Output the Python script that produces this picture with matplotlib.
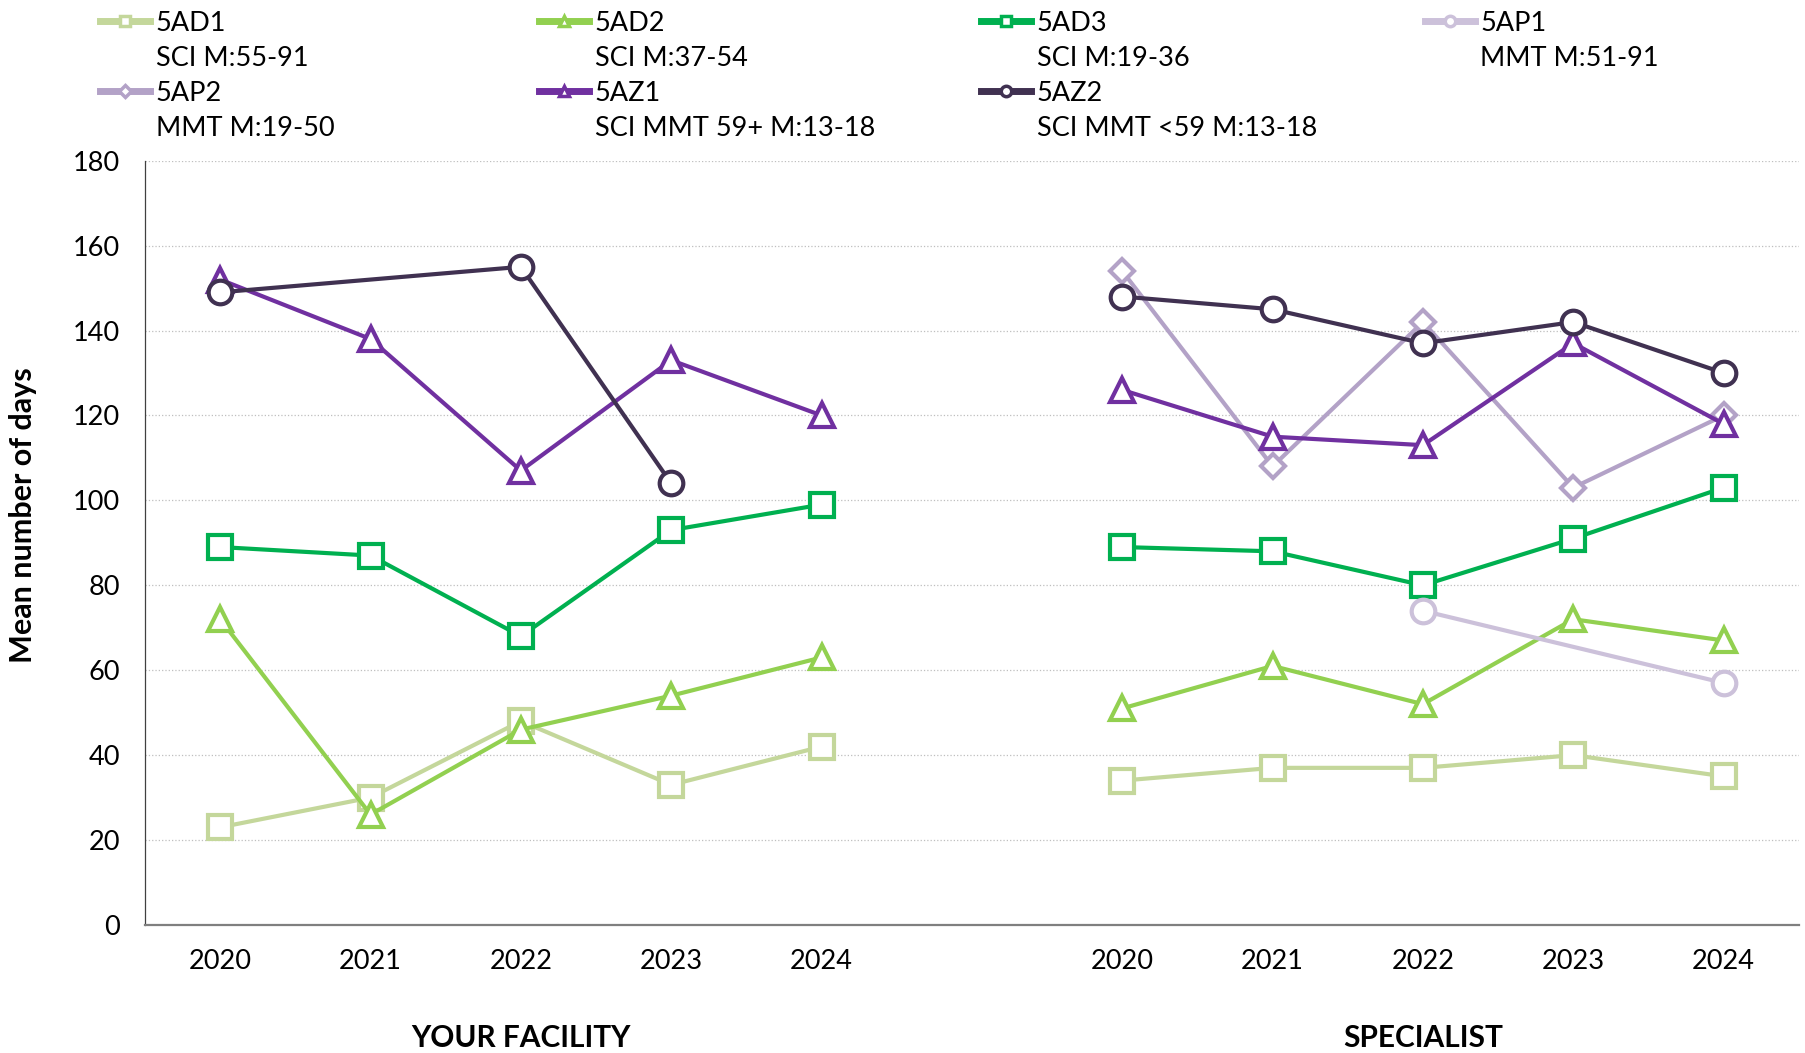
import numpy as np
import matplotlib
matplotlib.use('agg')
import matplotlib.pyplot as plt
import matplotlib.transforms as mtransforms
from matplotlib.lines import Line2D

#------------------------------------------------------------------------------
# SETTINGS
#------------------------------------------------------------------------------

plt.rcParams['font.family'] = ['Lato', 'DejaVu Sans']
fontsize = 19.5

years = ['2020', '2021', '2022', '2023', '2024']
groups = ['YOUR FACILITY', 'SPECIALIST']

series_names = ['5AD1', '5AD2', '5AD3', '5AP1', '5AP2', '5AZ1', '5AZ2']
series_desc = ['SCI M:55-91', 'SCI M:37-54', 'SCI M:19-36', 'MMT M:51-91',
               'MMT M:19-50', 'SCI MMT 59+ M:13-18', 'SCI MMT <59 M:13-18']

nan = np.nan

# Mean number of days, YOUR FACILITY
ad1_fac = [23, 30, 48, 33, 42]
ad2_fac = [72, 26, 46, 54, 63]
ad3_fac = [89, 87, 68, 93, 99]
ap1_fac = [nan, nan, nan, nan, nan]
ap2_fac = [nan, nan, nan, nan, nan]
az1_fac = [152, 138, 107, 133, 120]
az2_fac = [149, nan, 155, 104, nan]

# Mean number of days, SPECIALIST
ad1_spec = [34, 37, 37, 40, 35]
ad2_spec = [51, 61, 52, 72, 67]
ad3_spec = [89, 88, 80, 91, 103]
ap1_spec = [nan, nan, 74, nan, 57]
ap2_spec = [154, 108, 142, 103, 120]
az1_spec = [126, 115, 113, 137, 118]
az2_spec = [148, 145, 137, 142, 130]

fac = [ad1_fac, ad2_fac, ad3_fac, ap1_fac, ap2_fac, az1_fac, az2_fac]
spec = [ad1_spec, ad2_spec, ad3_spec, ap1_spec, ap2_spec, az1_spec, az2_spec]

colors = ['#C4D79B', '#92D050', '#00B050', '#CCC1DA', '#B3A2C7', '#7030A0', '#403151']
markers = ['s', '^', 's', 'o', 'D', '^', 'o']
msizes = [17, 17, 17, 17, 12, 17, 17]

#------------------------------------------------------------------------------
# PLOT
#------------------------------------------------------------------------------

fig = plt.figure(figsize=(18.06, 10.53), dpi=100)
ax = fig.add_axes([0.0803, 0.1216, 0.9157, 0.7258])

x_fac = np.arange(len(years))
x_spec = np.arange(len(years)) + len(years) + 1

for i in range(len(series_names)):
    for xx, vals in [(x_fac, fac[i]), (x_spec, spec[i])]:
        vals = np.array(vals, dtype=float)
        mask = ~np.isnan(vals)
        if mask.sum() == 0:
            continue
        ax.plot(xx[mask], vals[mask], color=colors[i], lw=3, marker=markers[i],
                ms=msizes[i], mfc='white', mec=colors[i], mew=3, zorder=3 + i)

ax.set_xlim(-0.5, 2 * len(years) + 0.5)
ax.set_ylim(0, 180)
ax.set_yticks(np.arange(0, 181, 20))
ax.set_xticks(list(x_fac) + list(x_spec))
ax.set_xticklabels(years + years)
ax.tick_params(axis='both', length=0, labelsize=fontsize)
ax.tick_params(axis='y', pad=18)
ax.tick_params(axis='x', pad=17)

ax.grid(axis='y', color='#BFBFBF', linestyle=':', lw=0.9)
ax.set_axisbelow(True)
for s in ['top', 'right']:
    ax.spines[s].set_visible(False)
ax.spines['left'].set_color('#404040')
ax.spines['left'].set_linewidth(0.9)
ax.spines['bottom'].set_color('#7F7F7F')
ax.spines['bottom'].set_linewidth(1.6)

# group labels below the year ticks
trans = mtransforms.blended_transform_factory(ax.transData, fig.transFigure)
ax.text(x_fac.mean(), 0.0142, groups[0], transform=trans, ha='center', va='center',
        fontsize=21.5, fontweight='bold')
ax.text(x_spec.mean(), 0.0142, groups[1], transform=trans, ha='center', va='center',
        fontsize=21.5, fontweight='bold')

fig.text(0.0127, 0.511, 'Mean number of days', rotation=90, ha='center', va='center',
         fontsize=22, fontweight='bold')

# legend: four columns, name on first line and description below
handles = []
for i in range(len(series_names)):
    handles.append(Line2D([], [], color=colors[i], lw=5, marker=markers[i],
                          ms=7.5 if markers[i] != 'D' else 6, mfc='white',
                          mec=colors[i], mew=2.5))
blank = Line2D([], [], linestyle='none')

columns = [[0, 4], [1, 5], [2, 6], [3]]
col_x = [0.0554, 0.2985, 0.5432, 0.789]
for c in range(len(columns)):
    hh = []
    ll = []
    for i in columns[c]:
        hh += [handles[i], blank]
        ll += [series_names[i], series_desc[i]]
    fig.legend(hh, ll, loc='upper left', bbox_to_anchor=(col_x[c], 0.990),
               frameon=False, fontsize=fontsize, handlelength=1.85,
               handletextpad=0.2, labelspacing=0.37, borderpad=0.0,
               borderaxespad=0.0)

plt.savefig('out.png', dpi=100)
plt.close('all')
